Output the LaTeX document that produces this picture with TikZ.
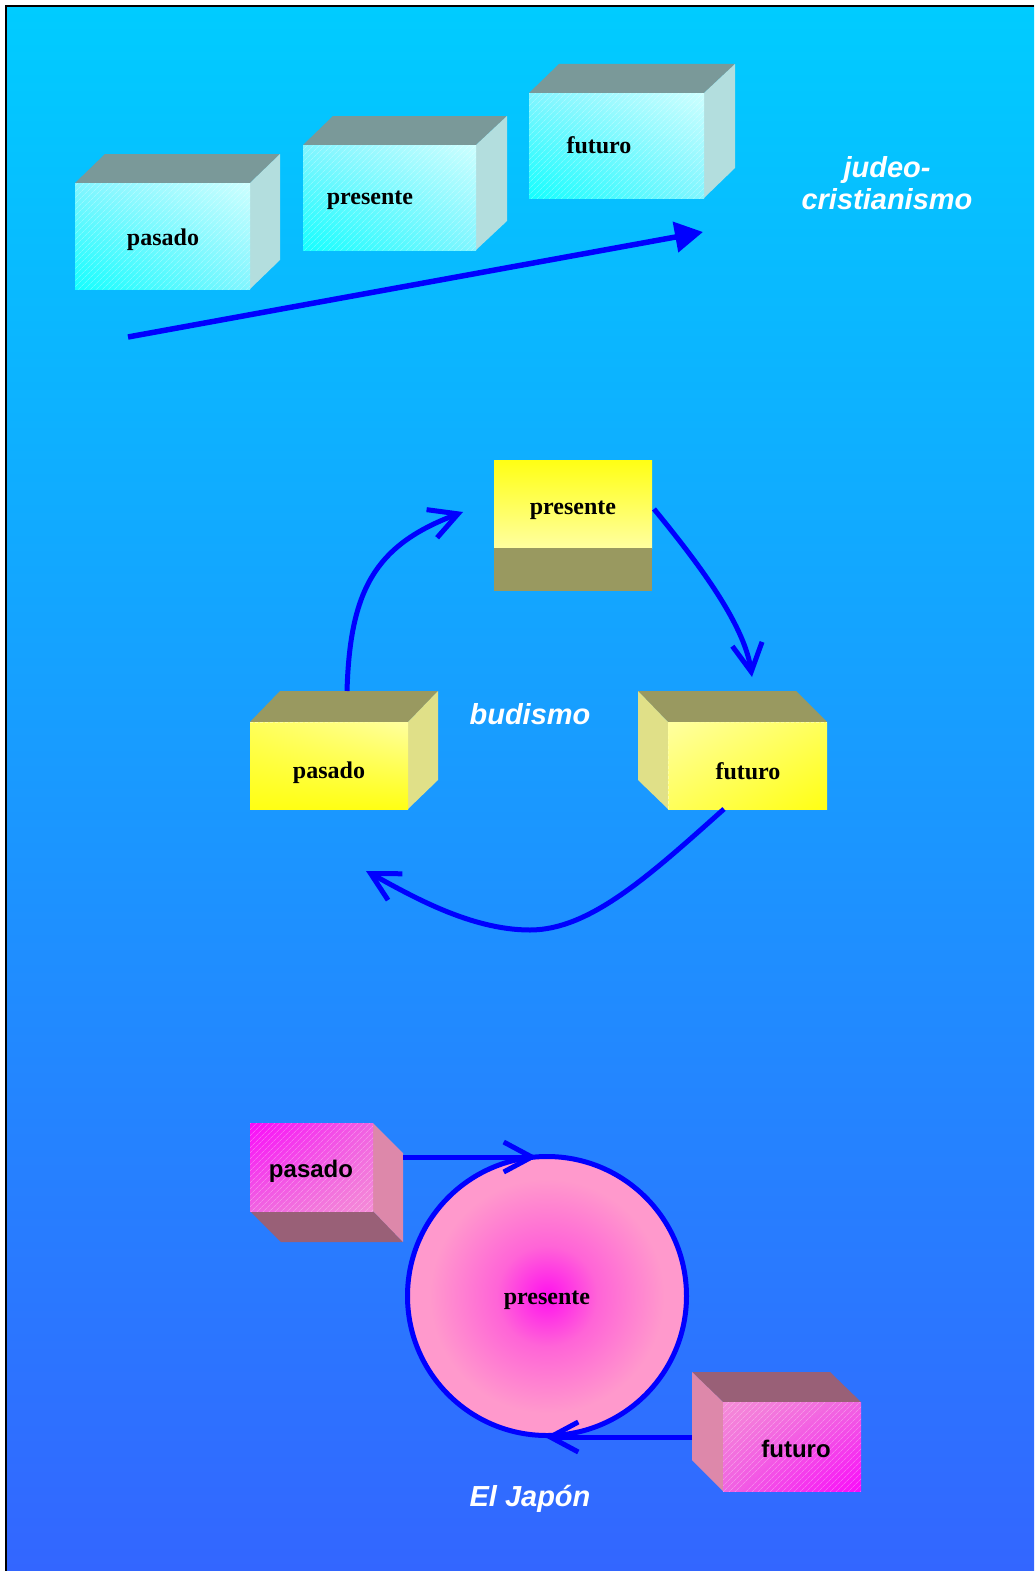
\documentclass[tikz,border=0pt]{standalone}
\usepackage{fontspec}
\setmainfont{Liberation Serif}
\setsansfont{Liberation Sans}
\usetikzlibrary{arrows.meta,patterns.meta,shadings}

% palette
\definecolor{bgtop}{RGB}{0,204,255}
\definecolor{bgbot}{RGB}{51,102,255}
\definecolor{arrowblue}{RGB}{0,0,255}
\definecolor{tealtop}{RGB}{122,153,153}
\definecolor{tealside}{RGB}{179,222,222}
\definecolor{cyandeep}{RGB}{20,255,255}
\definecolor{cyanmid}{RGB}{130,245,255}
\definecolor{cyanpale}{RGB}{205,255,255}
\definecolor{olivetop}{RGB}{153,153,96}
\definecolor{olivepale}{RGB}{224,224,136}
\definecolor{yellowdeep}{RGB}{255,255,20}
\definecolor{yellowmid}{RGB}{255,255,90}
\definecolor{yellowpale}{RGB}{255,255,160}
\definecolor{pinkside}{RGB}{221,136,170}
\definecolor{pinkdark}{RGB}{153,96,119}
\definecolor{magentadeep}{RGB}{250,10,250}
\definecolor{pinkmid}{RGB}{240,100,225}
\definecolor{pinklight}{RGB}{245,140,215}
\definecolor{pinkcore}{RGB}{255,17,238}
\definecolor{pinkring}{RGB}{255,100,215}
\definecolor{pinkedge}{RGB}{255,153,204}

\pgfdeclareradialshading{japoncentre}{\pgfpoint{0bp}{0bp}}{%
  color(0bp)=(pinkcore); color(9bp)=(pinkring); color(21bp)=(pinkedge);
  color(25bp)=(pinkedge); color(50bp)=(pinkedge)}

\tikzset{
  conn/.style={draw=arrowblue, line width=5pt},
  barb/.style={-{Straight Barb[length=28pt,width=30pt]}},
  tri/.style={-{Triangle[length=28pt,width=30pt]}},
  lblserif/.style={font=\fontsize{24}{28}\selectfont\bfseries, inner sep=0pt},
  lblsans/.style={font=\fontsize{24}{28}\selectfont\sffamily\bfseries, inner sep=0pt},
  heading/.style={font=\fontsize{29}{32}\selectfont\sffamily\bfseries\itshape,
    text=white, inner sep=0pt},
  hatch/.style={pattern={Lines[angle=45,distance=4pt,line width=0.7pt]},
    pattern color=white, fill opacity=0.28},
  cyanface/.style={lower left=cyandeep, upper right=cyanpale,
    upper left=cyanmid, lower right=cyanmid},
  seam/.style={draw=yellowpale, line width=1pt, dash pattern=on 3pt off 2pt},
}

\begin{document}
\begin{tikzpicture}[x=1pt,y=-1pt]
\useasboundingbox (0,0) rectangle (1034,1571);

% page and backdrop
\fill[white] (0,0) rectangle (1034,1571);
\shade[top color=bgtop, bottom color=bgbot] (6,6) rectangle (1034,1571);
\draw[black, line width=2pt] (6,1571) -- (6,6) -- (1034,6);

% ---------- judeo-cristianismo: three boxes in a rising row ----------
% pasado
\fill[tealtop]  (75,183) -- (105,154) -- (280,154) -- (250,183) -- cycle;
\fill[tealside] (250,183) -- (280,154) -- (280,260) -- (250,289) -- cycle;
\shade[cyanface] (75,183) rectangle (250,289);
\path[hatch] (75,183) rectangle (250,289);
% presente
\fill[tealtop]  (303,145) -- (333,116) -- (507,116) -- (476,145) -- cycle;
\fill[tealside] (476,145) -- (507,116) -- (507,221) -- (476,250) -- cycle;
\shade[cyanface] (303,145) rectangle (476,250);
\path[hatch] (303,145) rectangle (476,250);
% futuro
\fill[tealtop]  (529,93) -- (559,64) -- (735,64) -- (704,93) -- cycle;
\fill[tealside] (704,93) -- (735,64) -- (735,168) -- (704,198) -- cycle;
\shade[cyanface] (529,93) rectangle (704,198);
\path[hatch] (529,93) rectangle (704,198);

\node[lblserif] (jpasado)   at (163,240) {pasado};
\node[lblserif] (jpresente) at (370,200) {presente};
\node[lblserif] (jfuturo)   at (599,145) {futuro};
\node[heading, align=center] (jtitle) at (887,183) {judeo-\\cristianismo};

\coordinate (jtail) at (128,337);
\coordinate (jhead) at (703,232);
\draw[conn, line width=5.5pt, tri] (jtail) -- (jhead);

% ---------- budismo: three boxes on a cycle ----------
% presente (seen from below)
\shade[top color=yellowdeep, bottom color=yellowpale] (494,460) rectangle (652,548);
\fill[olivetop] (494,548) rectangle (652,591);
% pasado
\fill[olivetop]  (250,722) -- (280,691) -- (438,691) -- (408,722) -- cycle;
\fill[olivepale] (408,722) -- (438,691) -- (438,780) -- (408,809) -- cycle;
\shade[lower left=yellowdeep, upper left=yellowmid, upper right=yellowpale,
       lower right=yellowdeep] (250,722) rectangle (408,809);
\draw[seam] (250,722) -- (408,722);
% futuro
\fill[olivetop]  (668,722) -- (638,691) -- (796,691) -- (827,722) -- cycle;
\fill[olivepale] (638,691) -- (668,722) -- (668,809) -- (638,780) -- cycle;
\shade[upper left=yellowpale, lower left=yellowmid, upper right=yellowmid,
       lower right=yellowdeep] (668,722) rectangle (827,809);
\draw[seam] (668,809) -- (668,722) -- (827,722);

\node[lblserif] (bpresente) at (573,510) {presente};
\node[lblserif] (bpasado)   at (329,773) {pasado};
\node[lblserif] (bfuturo)   at (748,771) {futuro};
\node[heading] (btitle) at (530,714) {budismo};

\coordinate (bpasadotop)  at (347,691);
\coordinate (bpresentein) at (463,512);
\coordinate (bpresenteout) at (654,509);
\coordinate (bfuturoin)   at (752,677);
\coordinate (bfuturobot)  at (724,809);
\coordinate (bpasadoin)   at (366,871);

\draw[conn, barb] (bpasadotop) .. controls (350,590) and (375,545) .. (bpresentein);
\draw[conn, barb] (bpresenteout) .. controls (694,558) and (744,622) .. (bfuturoin);
\draw[conn, barb] (bfuturobot) .. controls (650,875) and (590,930) .. (530,930)
                   .. controls (470,930) and (410,895) .. (bpasadoin);

% ---------- El Japón: everything flows into the present ----------
% pasado (seen from below right)
\fill[pinkdark] (250,1211) -- (373,1211) -- (403,1242) -- (281,1242) -- cycle;
\fill[pinkside] (373,1123) -- (403,1153) -- (403,1242) -- (373,1211) -- cycle;
\shade[upper left=magentadeep, upper right=pinkmid, lower left=pinkmid,
       lower right=pinklight] (250,1123) rectangle (373,1211);
\path[hatch] (250,1123) rectangle (373,1211);
% futuro
\fill[pinkdark] (692,1372) -- (830,1372) -- (861,1402) -- (723,1402) -- cycle;
\fill[pinkside] (692,1372) -- (723,1402) -- (723,1491) -- (692,1460) -- cycle;
\shade[upper left=pinklight, upper right=pinkmid, lower left=pinkmid,
       lower right=magentadeep] (723,1402) rectangle (861,1491);
\path[hatch] (723,1402) rectangle (861,1491);

\node[circle, minimum size=279pt, inner sep=0pt, shading=japoncentre,
      draw=arrowblue, line width=5pt] (epresente) at (547,1296) {};
\node[lblserif] (eprestext) at (547,1300) {presente};

\node[lblsans] (epasado) at (311,1171) {pasado};
\node[lblsans] (efuturo) at (796,1449) {futuro};
\node[heading] (etitle)  at (530,1499) {El Japón};

\coordinate (epasadoright) at (403,1157);
\coordinate (efuturoleft)  at (692,1437);
\draw[conn, barb] (epasadoright) -- ([xshift=-10pt]epresente.north |- epasadoright);
\draw[conn, barb] (efuturoleft) -- ([xshift=-2pt]epresente.south |- efuturoleft);

\end{tikzpicture}
\end{document}
